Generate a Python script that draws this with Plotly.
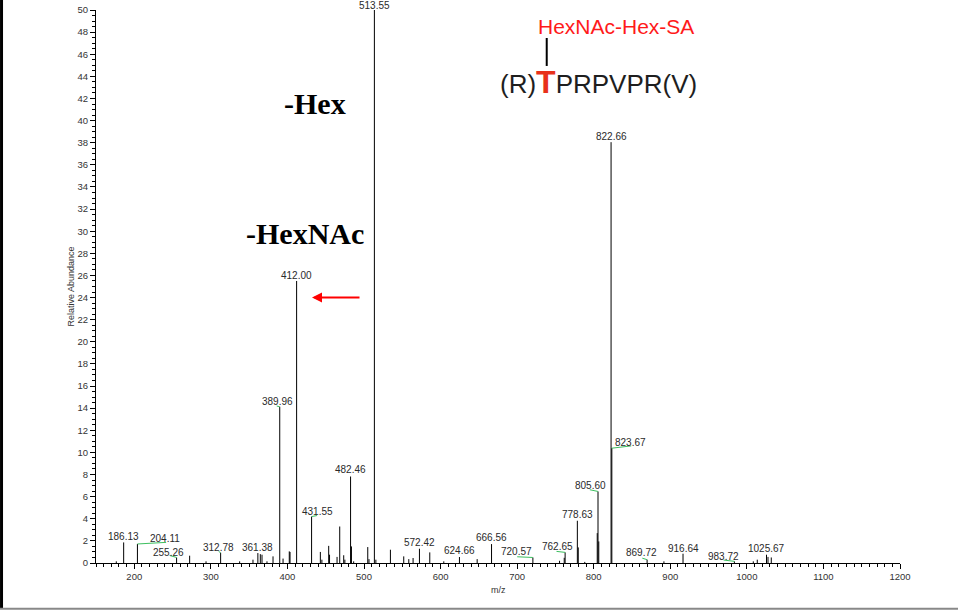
import plotly.graph_objects as go

# ---------------- data ----------------
# labelled peaks (m/z, relative abundance)
label_mz = [186.13, 204.11, 255.26, 312.78, 361.38, 389.96, 412.00, 431.55, 482.46,
            513.55, 572.42, 624.66, 666.56, 720.57, 762.65, 778.63, 805.60, 822.66,
            823.67, 869.72, 916.64, 983.72, 1025.67]
label_int = [1.86, 1.72, 0.50, 0.93, 0.90, 14.13, 25.5, 4.20, 7.82,
             100.0, 1.29, 0.54, 1.71, 0.50, 0.96, 3.82, 6.47, 38.05,
             10.38, 0.30, 0.84, 0.15, 0.75]
# unlabelled minor peaks
minor_mz = [176.5, 272.3, 293.7, 337.6, 355.0, 364.6, 366.8, 373.3, 381.2, 394.3,
            402.4, 403.4, 443.0, 445.0, 453.9, 455.0, 464.8, 468.3, 473.5, 475.0,
            483.6, 486.5, 504.9, 506.5, 515.5, 534.5, 551.9, 558.5, 564.1, 585.9,
            604.2, 647.8, 755.4, 761.5, 779.8, 788.3, 804.6, 806.6, 891.7, 1008.4,
            1013.6, 1027.6, 1031.9]
minor_int = [0.15, 0.66, 0.15, 0.15, 0.30, 0.80, 0.75, 0.15, 0.60, 0.40,
             1.05, 1.00, 1.00, 0.30, 1.55, 0.75, 0.55, 3.30, 0.70, 0.30,
             1.50, 0.15, 1.44, 0.35, 0.30, 1.20, 0.60, 0.35, 0.45, 0.96,
             0.15, 0.35, 0.20, 0.47, 1.41, 0.10, 2.70, 1.95, 0.15, 0.15,
             0.30, 0.55, 0.50]

x_range = [150, 1200]
y_range = [0, 50]
x_ticks = [200, 300, 400, 500, 600, 700, 800, 900, 1000, 1100, 1200]

# ---------------- styling (label offsets in px: label centre, leader end) ----------------
label_off = {186.13: (0, 6), 204.11: (28, 5.3), 255.26: (-8, 5), 312.78: (-2, 5.3),
             361.38: (0, 5.3), 389.96: (-2, 5.7), 412.00: (0, 5.7), 431.55: (5.5, 5),
             482.46: (0, 7.5), 513.55: (0, 4.5), 572.42: (0.5, 6.7), 624.66: (0.5, 6.3),
             666.56: (0, 6.3), 720.57: (-16, 6.3), 762.65: (-7.6, 6), 778.63: (0.5, 6.7),
             805.60: (-8, 5.7), 822.66: (0, 6), 823.67: (19, 5.6), 869.72: (-5.2, 7),
             916.64: (0, 5.7), 983.72: (-10.8, 5.3), 1025.67: (0, 6.7)}
leader_off = {204.11: (28.7, 1.6), 255.26: (-7, 2), 312.78: (-2, 1.3), 389.96: (-3, 0.7),
              431.55: (5.5, 1), 720.57: (-15.7, 0.7), 762.65: (-8.6, 1), 805.60: (-8.2, 1.7),
              823.67: (19.4, 2.3), 869.72: (-4.8, 1.5), 983.72: (-10.8, 1.3)}
GREEN = "#3dbf5f"
TXT = "#2a2a2a"

all_mz = label_mz + minor_mz
all_int = label_int + minor_int
xs, ys = [], []
for m, h in zip(all_mz, all_int):
    xs += [m, m, None]
    ys += [0, h, None]

fig = go.Figure()
fig.add_trace(go.Scatter(x=xs, y=ys, mode="lines", line=dict(color="black", width=1),
                         hoverinfo="skip", showlegend=False, cliponaxis=True))

annotations = []
shapes = []
for m, h in zip(label_mz, label_int):
    yv = min(h, y_range[1])
    lx, ly = label_off[m]
    annotations.append(dict(x=m, y=yv, xref="x", yref="y", text=f"{m:.2f}", showarrow=False,
                            xshift=lx, yshift=ly, xanchor="center", yanchor="middle",
                            font=dict(family="Liberation Sans, Arial", size=10, color=TXT)))
    if m in leader_off:
        gx, gy = leader_off[m]
        shapes.append(dict(type="line", xref="x", yref="y", xsizemode="pixel", ysizemode="pixel",
                           xanchor=m, yanchor=yv, x0=0, y0=0, x1=gx, y1=gy,
                           line=dict(color=GREEN, width=1)))

# text decorations
annotations += [
    dict(x=0.6468, y=0.9698, xref="paper", yref="paper", text="HexNAc-Hex-SA", showarrow=False,
         font=dict(family="Liberation Sans, Arial", size=21, color="#ff1a1a"),
         xanchor="center", yanchor="middle"),
    dict(x=0.6256, y=0.8700, xref="paper", yref="paper",
         text="(R)<span style='color:#e8311a;font-size:32px'><b>T</b></span>PRPVPR(V)",
         showarrow=False, font=dict(family="Liberation Sans, Arial", size=26, color="#1e1e1e"),
         xanchor="center", yanchor="middle"),
    dict(x=0.2724, y=0.8308, xref="paper", yref="paper", text="<b>-Hex</b>", showarrow=False,
         font=dict(family="Liberation Serif, Times New Roman", size=30, color="black"),
         xanchor="center", yanchor="middle"),
    dict(x=0.2596, y=0.5964, xref="paper", yref="paper", text="<b>-HexNAc</b>", showarrow=False,
         font=dict(family="Liberation Serif, Times New Roman", size=30, color="black"),
         xanchor="center", yanchor="middle"),
    dict(x=432.1, y=24.0, xref="x", yref="y", text="", showarrow=True, ax=49, ay=0,
         arrowhead=2, arrowsize=1, arrowwidth=2, arrowcolor="#ff0000", standoff=0),
    dict(x=-0.0323, y=0.5, xref="paper", yref="paper", text="Relative Abundance", textangle=-90,
         showarrow=False, font=dict(family="Liberation Sans, Arial", size=9, color="#333"),
         xanchor="center", yanchor="middle"),
    dict(x=0.5, y=-0.0483, xref="paper", yref="paper", text="m/z",
         showarrow=False, font=dict(family="Liberation Sans, Arial", size=9, color="#333"),
         xanchor="center", yanchor="middle"),
]

shapes += [
    # glycan attachment bar
    dict(type="line", xref="paper", yref="paper", x0=0.5606, x1=0.5606, y0=0.8988, y1=0.9494,
         line=dict(color="black", width=2)),
    # page frame: left thick black, bottom grey
    dict(type="line", xref="paper", yref="paper", x0=-0.1175, x1=-0.1175, y0=-0.083, y1=1.02,
         line=dict(color="black", width=3)),
    dict(type="line", xref="paper", yref="paper", x0=-0.12, x1=1.08, y0=-0.0826, y1=-0.0826,
         line=dict(color="#888", width=2)),
]

fig.update_layout(
    width=958, height=611,
    margin=dict(l=96, r=58, t=10, b=48, autoexpand=False),
    paper_bgcolor="white", plot_bgcolor="white",
    showlegend=False,
    annotations=annotations, shapes=shapes,
    xaxis=dict(range=x_range, tickvals=x_ticks, ticks="outside", ticklen=5, tickcolor="black",
               showline=True, linecolor="black", linewidth=1, showgrid=False, zeroline=False,
               tickfont=dict(family="Liberation Sans, Arial", size=9.5, color="#333"),
               minor=dict(dtick=10, tick0=0, ticks="outside", ticklen=3, tickcolor="black",
                          showgrid=False)),
    yaxis=dict(range=y_range, dtick=2, tick0=0, ticks="outside", ticklen=5, tickcolor="black",
               showline=True, linecolor="black", linewidth=1, showgrid=False, zeroline=False,
               tickfont=dict(family="Liberation Sans, Arial", size=9.5, color="#333"),
               minor=dict(dtick=0.5, tick0=0, ticks="outside", ticklen=3, tickcolor="black",
                          showgrid=False)),
)

fig.write_html("out.html", config={"displayModeBar": False},
               post_script="document.body.style.margin='0px';document.body.style.overflow='hidden';")
